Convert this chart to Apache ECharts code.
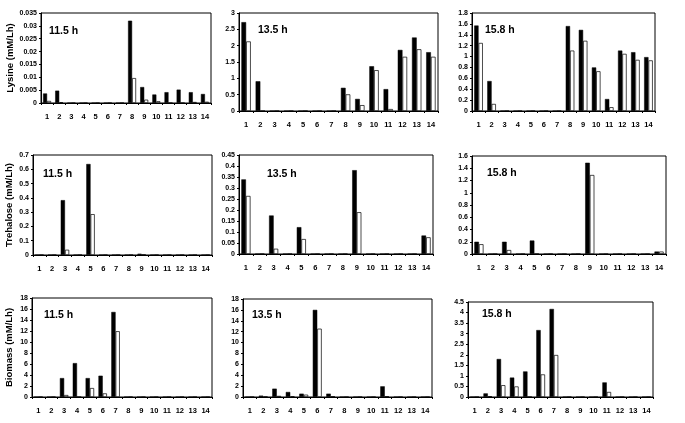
<!DOCTYPE html>
<html><head><meta charset="utf-8">
<script src="https://cdn.jsdelivr.net/npm/echarts@6/dist/echarts.min.js"></script>
<style>html,body{margin:0;padding:0;background:#fff}#c{width:685px;height:423px}</style>
</head><body><div id="c"></div>
<script>
const categories = ['1','2','3','4','5','6','7','8','9','10','11','12','13','14'];
const panelTitles = ['11.5 h','13.5 h','15.8 h','11.5 h','13.5 h','15.8 h','11.5 h','13.5 h','15.8 h'];
const rowNames = ['Lysine (mM/Lh)','Trehalose (mM/Lh)','Biomass (mM/Lh)'];
// y-axis ranges [max, interval]
const yMax = [0.035,3,1.8,0.7,0.45,1.6,18,18,4.5];
const yStep = [0.005,0.5,0.2,0.1,0.05,0.2,2,2,0.5];

const lys115A = [0.0037,0.0048,0,0,0,0,0,0.032,0.0062,0.0033,0.0042,0.0052,0.0042,0.0035];
const lys115B = [0.0008,0.0003,0,0,0,0,0,0.0097,0.0013,0.0007,0,0,0.0004,0.0005];
const lys135A = [2.72,0.91,0,0,0,0,0,0.71,0.37,1.37,0.67,1.87,2.25,1.80];
const lys135B = [2.13,0,0,0,0,0,0,0.51,0.18,1.25,0.06,1.66,1.89,1.66];
const lys158A = [1.57,0.55,0,0,0,0,0,1.56,1.49,0.80,0.22,1.11,1.08,0.99];
const lys158B = [1.25,0.13,0,0,0,0,0,1.11,1.29,0.73,0.07,1.05,0.94,0.93];
const tre115A = [0,0,0.384,0,0.637,0,0,0,0.009,0,0,0,0,0];
const tre115B = [0,0,0.037,0,0.286,0,0,0,0.002,0,0,0,0,0];
const tre135A = [0.339,0,0.175,0,0.122,0,0,0,0.381,0,0,0,0,0.084];
const tre135B = [0.264,0,0.024,0,0.068,0,0,0,0.19,0,0,0,0,0.076];
const tre158A = [0.20,0,0.20,0,0.22,0,0,0,1.49,0,0,0,0,0.04];
const tre158B = [0.16,0,0.065,0,0,0,0,0,1.29,0,0,0,0,0.04];
const bio115A = [0,0,3.44,6.16,3.44,3.87,15.46,0,0,0,0,0,0,0];
const bio115B = [0,0,0.36,0,1.63,0.66,11.96,0,0,0,0,0,0,0];
const bio135A = [0,0.25,1.53,0.92,0.61,16.0,0.61,0,0,0,1.96,0,0,0];
const bio135B = [0,0.05,0.2,0.1,0.43,12.55,0.1,0,0,0,0.1,0,0,0];
const bio158A = [0,0.17,1.80,0.92,1.21,3.17,4.17,0,0,0,0.69,0,0,0];
const bio158B = [0,0.03,0.56,0.50,0,1.07,1.99,0,0,0,0.24,0,0,0];

const seriesA = [lys115A,lys135A,lys158A,tre115A,tre135A,tre158A,bio115A,bio135A,bio158A];
const seriesB = [lys115B,lys135B,lys158B,tre115B,tre135B,tre158B,bio115B,bio135B,bio158B];

// layout: [left, top, right, bottom] in px
const boxes = [
  [41,13,211,103],[239,13,438,111],[472,13,655,111],
  [33,155,212,255],[239,155,433,254],[472,156,666,254],
  [32,298,212,397],[243,299,432,397],[468,302,653,397]
];
const titlePos = [[49,26],[258,25],[485,25],[43,169],[267,169],[487,168],[44,310],[252,310],[482,309]];
const nameGaps = [26,0,0,19,0,0,18,0,0];

const FONT = '"Liberation Sans", Arial, sans-serif';
const grids=[],xAxes=[],yAxes=[],series=[],titles=[];
boxes.forEach((b,i)=>{
  grids.push({left:b[0],top:b[1],width:b[2]-b[0],height:b[3]-b[1],show:true,borderColor:'#000',borderWidth:1,backgroundColor:'#fff'});
  xAxes.push({type:'category',gridIndex:i,data:categories,
    axisLine:{lineStyle:{color:'#000',width:1}},
    axisTick:{show:true,length:2,lineStyle:{color:'#000'}},
    axisLabel:{color:'#000',fontSize:7.5,fontWeight:'bold',fontFamily:FONT,margin:10,interval:0}});
  const col = i%3;
  yAxes.push({type:'value',gridIndex:i,min:0,max:yMax[i],interval:yStep[i],
    name: col===0 ? rowNames[Math.floor(i/3)] : '',
    nameLocation:'middle',nameGap:nameGaps[i],nameRotate:90,
    nameTextStyle:{color:'#000',fontSize:9.5,fontWeight:'bold',fontFamily:FONT},
    axisLine:{show:true,lineStyle:{color:'#000',width:1}},
    axisTick:{show:true,length:2,lineStyle:{color:'#000'}},
    splitLine:{show:false},
    axisLabel:{color:'#000',fontSize:7,fontWeight:'bold',fontFamily:FONT,margin:4}});
  series.push({type:'bar',xAxisIndex:i,yAxisIndex:i,data:seriesA[i],barWidth:'33%',barGap:'0%',
    itemStyle:{color:'#000',borderColor:'#000',borderWidth:0.5},silent:true});
  series.push({type:'bar',xAxisIndex:i,yAxisIndex:i,data:seriesB[i],barWidth:'33%',barGap:'0%',
    itemStyle:{color:'#fff',borderColor:'#000',borderWidth:0.7},silent:true});
  titles.push({text:panelTitles[i],left:titlePos[i][0],top:titlePos[i][1],padding:0,
    textStyle:{color:'#000',fontSize:10.5,fontWeight:'bold',fontFamily:FONT}});
});
const chart = echarts.init(document.getElementById('c'),null,{renderer:'canvas'});
chart.setOption({animation:false,backgroundColor:'#fff',title:titles,grid:grids,xAxis:xAxes,yAxis:yAxes,series:series});
</script></body></html>
